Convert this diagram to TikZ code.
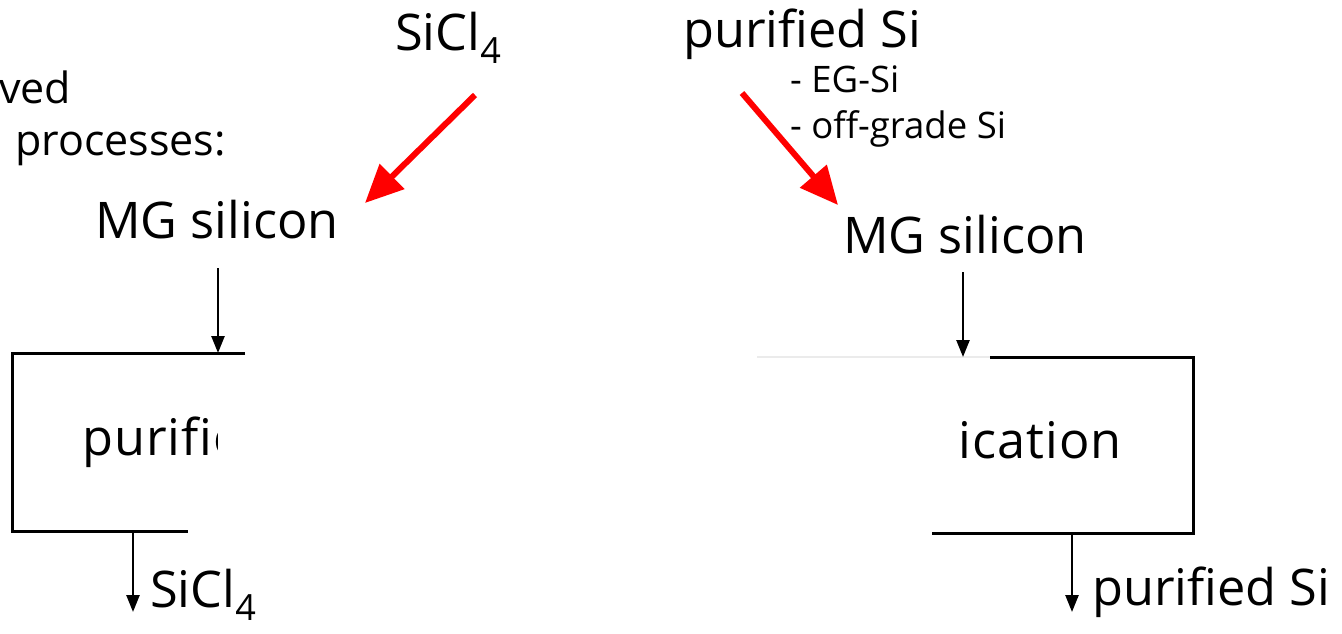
\documentclass[tikz,border=0pt]{standalone}
\usepackage{fontspec}
\setmainfont[Ligatures={NoCommon}]{Open Sans}
\usetikzlibrary{arrows.meta}
\newcommand{\subfour}{\raisebox{-0.26em}{\fontsize{36}{36}\selectfont 4}}
\begin{document}
\begin{tikzpicture}[x=1pt,y=-1pt,
  big/.style={inner sep=0pt, anchor=base west, font=\fontsize{50.5}{60}\selectfont},
  boxed/.style={big, font=\fontsize{50.5}{60}\selectfont\addfontfeatures{LetterSpace=2}},
  mid/.style={inner sep=0pt, anchor=base west, font=\fontsize{43}{50}\selectfont},
  small/.style={inner sep=0pt, anchor=base west, font=\fontsize{36.5}{42}\selectfont},
  feed/.style={draw=red, line width=6pt, -{Triangle[length=38pt,width=34pt]}},
  flow/.style={draw=black, line width=2.5pt, -{Triangle[length=17pt,width=13pt]}},
  wall/.style={draw=black, line width=3pt},
  faint/.style={draw=black!8, line width=1.5pt}]
\useasboundingbox (0,0) rectangle (1342,633);

% heading lines at the left edge
\node[mid] (ved) at (-1,103) {ved};
\node[mid] (proc) at (15,155) {processes:};

% left route: SiCl4 feed
\node[big] (sicTop) at (395,50) {SiCl\subfour};
\node[big] (mgL) at (95,238) {MG silicon};
\coordinate (feedLa) at (475,95);
\coordinate (feedLb) at (365,203);
\draw[feed] (feedLa) -- (feedLb);

% right route: purified Si feed
\node[big] (purTop) at (683,47) {purified Si};
\node[small] (eg) at (790,92) {- EG-Si};
\node[small] (offg) at (790,138) {- off-grade Si};
\node[big] (mgR) at (843,253) {MG silicon};
\coordinate (feedRa) at (742,93);
\coordinate (feedRb) at (838,205);
\draw[feed] (feedRa) -- (feedRb);

% left purification box
\coordinate (bLtl) at (12,353);
\coordinate (bLtr) at (245,353);
\coordinate (bLbl) at (12,531);
\coordinate (bLbr) at (188,531);
\draw[wall] (bLtr) -- (bLtl) -- (bLbl) -- (bLbr);
\begin{scope}
  \clip (0,360) rectangle (217,520);
  \node[boxed] (purL) at (82,455) {purification};
\end{scope}
\coordinate (inL) at (218,268);
\coordinate (inLb) at (218,353);
\draw[flow] (inL) -- (inLb);
\coordinate (outL) at (133,531);
\coordinate (outLb) at (133,612);
\draw[flow] (outL) -- (outLb);
\node[big] (sicBot) at (150,607) {SiCl\subfour};

% right purification box
\coordinate (bRfl) at (757,357);
\coordinate (bRtl) at (990,357);
\coordinate (bRtr) at (1193,357);
\coordinate (bRbr) at (1193,533);
\coordinate (bRbl) at (932,533);
\draw[faint] (bRfl) -- (bRtl);
\draw[wall] (bRtl) -- (bRtr) -- (bRbr) -- (bRbl);
\begin{scope}
  \clip (961,365) rectangle (1185,525);
  \node[boxed, anchor=base east] (purR) at (1122,458) {purification};
\end{scope}
\coordinate (inR) at (963,272);
\coordinate (inRb) at (963,357);
\draw[flow] (inR) -- (inRb);
\coordinate (outR) at (1072,533);
\coordinate (outRb) at (1072,612);
\draw[flow] (outR) -- (outRb);
\node[big] (purBot) at (1092,605) {purified Si};
\end{tikzpicture}
\end{document}
